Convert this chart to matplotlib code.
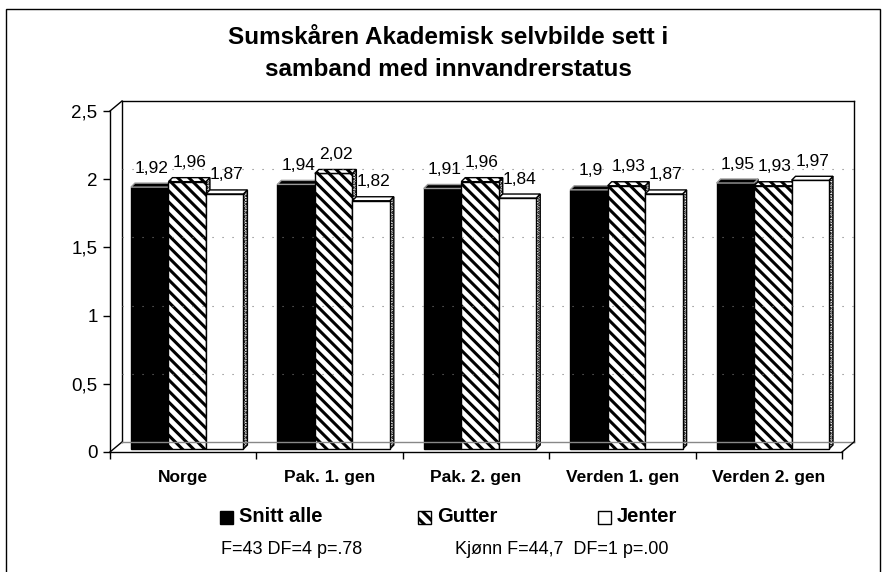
import matplotlib.pyplot as plt
from matplotlib.patches import Polygon, Rectangle

plt.rcParams['font.family'] = ['Liberation Sans', 'DejaVu Sans']
plt.rcParams['hatch.linewidth'] = 2.2

categories = ['Norge', 'Pak. 1. gen', 'Pak. 2. gen', 'Verden 1. gen', 'Verden 2. gen']
snitt_alle = [1.92, 1.94, 1.91, 1.90, 1.95]
gutter = [1.96, 2.02, 1.96, 1.93, 1.93]
jenter = [1.87, 1.82, 1.84, 1.87, 1.97]
series = [('Snitt alle', snitt_alle), ('Gutter', gutter), ('Jenter', jenter)]
yticks = [0, 0.5, 1, 1.5, 2, 2.5]

W, H = 896, 572
fig = plt.figure(figsize=(W / 100, H / 100), dpi=100)

# front plot box in pixels
x0, x1, yb, yt = 110, 842, 452, 111
ax = fig.add_axes([x0 / W, 1 - yb / H, (x1 - x0) / W, (yb - yt) / H])
ax.set_xlim(0, 5)
ax.set_ylim(0, 2.5)
for s in ax.spines.values():
    s.set_visible(False)

pxx = 5 / (x1 - x0)        # data units per pixel
pxy = 2.5 / (yb - yt)
wx, wy = 12 * pxx, 10 * pxy   # wall depth
bx, by = 4 * pxx, 3 * pxy     # bar shift
dx, dy = 4 * pxx, 4 * pxy     # bar depth

lk = dict(color='black', lw=1.0, clip_on=False)
# front axes
ax.plot([0, 0], [0, 2.5], **lk)
ax.plot([0, 5], [0, 0], **lk)
# side wall and back wall
ax.plot([wx, wx], [wy, 2.5 + wy], **lk)
ax.plot([0, wx], [0, wy], **lk)
ax.plot([0, wx], [2.5, 2.5 + wy], **lk)
ax.plot([wx, 5 + wx], [2.5 + wy, 2.5 + wy], **lk)
ax.plot([5 + wx, 5 + wx], [wy, 2.5 + wy], **lk)
ax.plot([wx, 5 + wx], [wy, wy], color='#888888', lw=1.0, clip_on=False)
ax.plot([5, 5 + wx], [0, wy], **lk)
for t in yticks[1:-1]:
    ax.plot([wx, 5 + wx], [t + wy, t + wy], color='#777777', lw=0.8,
            ls=(0, (1, 8)), clip_on=False)

ax.set_yticks(yticks)
ax.set_yticklabels([f'{t:g}'.replace('.', ',') for t in yticks], fontsize=13.5)
ax.set_xticks(range(6))
ax.set_xticklabels([''] * 6)
ax.set_xticks([i + 0.5 for i in range(5)], minor=True)
ax.set_xticklabels(categories, minor=True, fontsize=12.5, fontweight='bold')
ax.tick_params(axis='x', which='major', direction='out', length=5, width=1)
ax.tick_params(axis='x', which='minor', length=0, pad=13)
ax.tick_params(axis='y', direction='out', length=5, width=1, pad=4)

bw = 0.256
styles = [dict(facecolor='black', hatch=None, top='black', topedge='#999999'),
          dict(facecolor='white', hatch='\\\\\\', top='white', topedge='black'),
          dict(facecolor='white', hatch=None, top='white', topedge='black')]
for k, (name, vals) in enumerate(series):
    for i, v in enumerate(vals):
        left = i + 0.5 + (k - 1.5) * bw + bx
        right = left + bw
        bot = by
        top = v + by
        st = styles[k]
        side = Polygon([(right, bot), (right + dx, bot + dy), (right + dx, top + dy), (right, top)],
                       closed=True, facecolor='white', edgecolor='black', lw=1.0, hatch='....', clip_on=False)
        ax.add_patch(side)
        ax.add_patch(Rectangle((left, bot), bw, v, facecolor=st['facecolor'], hatch=st['hatch'],
                               edgecolor='black', lw=1.0, clip_on=False))
        ax.add_patch(Polygon([(left, top), (right, top), (right + dx, top + dy), (left + dx, top + dy)],
                             closed=True, facecolor=st['top'], edgecolor=st['topedge'], lw=1.0,
                             hatch=st['hatch'], clip_on=False))
        ax.text(left + bw / 2 + dx / 2, top + dy + 0.055, f'{v:g}'.replace('.', ','),
                ha='center', va='bottom', fontsize=12.5)

fig.text(0.5, 1 - 53 / H, 'Sumskåren Akademisk selvbilde sett i\nsamband med innvandrerstatus',
         ha='center', va='center', fontsize=17.5, fontweight='bold', linespacing=1.5)

# legend, drawn by hand to match the spacing
leg_x = [220, 418, 598]
leg_y = 517
for k, (name, vals) in enumerate(series):
    st = styles[k]
    fig.add_artist(Rectangle((leg_x[k] / W, 1 - (leg_y + 6.5) / H), 13 / W, 13 / H,
                             transform=fig.transFigure, facecolor=st['facecolor'],
                             hatch=st['hatch'], edgecolor='black', lw=1.0))
    fig.text((leg_x[k] + 19) / W, 1 - leg_y / H, name, fontsize=14.5, fontweight='bold',
             va='center', ha='left')

fig.text(221 / W, 1 - 550 / H, 'F=43 DF=4 p=.78', fontsize=13, va='center')
fig.text(455 / W, 1 - 550 / H, 'Kjønn F=44,7  DF=1 p=.00', fontsize=13, va='center')

fig.add_artist(Rectangle((6 / W, 1 - 700 / H), 874 / W, 691 / H, transform=fig.transFigure,
                         fill=False, edgecolor='black', lw=1.0, clip_on=False))

fig.savefig('out.png', dpi=100)
